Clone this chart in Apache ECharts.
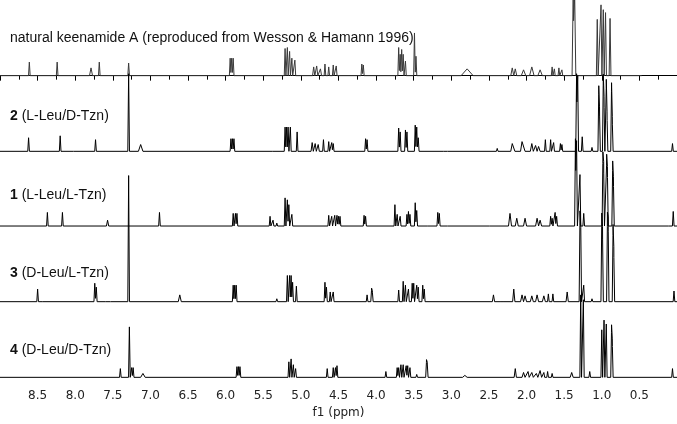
<!DOCTYPE html>
<html>
<head>
<meta charset="utf-8">
<script src="https://cdn.jsdelivr.net/npm/echarts@6/dist/echarts.min.js"></script>
<style>
  html, body { margin: 0; padding: 0; background: #fff; }
  #main { width: 677px; height: 424px; }
</style>
</head>
<body>
<div id="main"></div>
<script>
// peak lists: [ppm, intensity, half-width in ppm (optional)]
var natural = [
  [8.61, 14], [8.24, 14], [7.79, 8, 0.02], [7.68, 14], [7.29, 13],
  [5.94, 18], [5.92, 18], [5.90, 18],
  [5.21, 28], [5.18, 29], [5.15, 25], [5.12, 18], [5.08, 16],
  [4.83, 9, 0.015], [4.79, 10, 0.015], [4.74, 7, 0.015], [4.68, 12], [4.63, 9], [4.57, 11], [4.53, 10],
  [4.19, 12], [4.17, 11],
  [3.70, 29], [3.68, 22], [3.66, 27], [3.64, 22], [3.61, 15],
  [3.49, 44], [3.47, 20],
  [2.79, 7, 0.08],
  [2.19, 8, 0.02], [2.15, 7, 0.02], [2.04, 6, 0.03], [1.93, 9, 0.03], [1.82, 6, 0.03],
  [1.66, 9], [1.63, 7], [1.57, 8], [1.53, 6],
  [1.38, 85, 0.015], [1.36, 82, 0.015],
  [1.06, 58, 0.012], [1.01, 73, 0.012], [0.98, 68, 0.012], [0.95, 65, 0.012], [0.89, 59, 0.012]
];
var cmpd2 = [
  [8.62, 14], [8.20, 16], [8.01, 2], [7.73, 12], [7.29, 80], [7.13, 7, 0.03],
  [5.93, 13], [5.91, 13], [5.89, 13], [5.37, 2],
  [5.21, 25], [5.19, 25], [5.17, 25], [5.14, 25], [5.05, 20],
  [4.85, 9, 0.015], [4.81, 8, 0.015], [4.77, 7, 0.015], [4.70, 12], [4.63, 10], [4.59, 9], [4.57, 8],
  [4.14, 13], [4.12, 12],
  [3.70, 24], [3.68, 20], [3.61, 22], [3.59, 20], [3.48, 27], [3.46, 25], [3.44, 14],
  [3.09, 1], [3.04, 1], [2.39, 3],
  [2.19, 8, 0.02], [2.17, 10, 0.015], [2.06, 10, 0.02], [2.04, 8, 0.02], [1.93, 8, 0.02],
  [1.88, 6, 0.02], [1.84, 5, 0.02], [1.75, 12], [1.68, 12], [1.64, 9], [1.55, 8], [1.53, 7],
  [1.335, 80], [1.32, 78], [1.26, 15], [1.13, 4],
  [1.04, 64], [1.03, 40], [0.98, 75], [0.97, 50], [0.94, 71], [0.93, 35], [0.87, 68], [0.86, 30],
  [0.06, 8]
];
var cmpd1 = [
  [8.37, 14], [8.17, 14], [7.57, 6, 0.015], [6.88, 14],
  [5.90, 13], [5.87, 13], [5.85, 13], [5.41, 10], [5.37, 6], [5.32, 3],
  [5.21, 29], [5.18, 27], [5.16, 22], [5.12, 12],
  [4.63, 11], [4.59, 10], [4.55, 11], [4.52, 11], [4.50, 10], [4.48, 10],
  [4.16, 11], [4.14, 10],
  [3.75, 22], [3.72, 12], [3.68, 10], [3.59, 12], [3.57, 15], [3.55, 12], [3.48, 24], [3.46, 16],
  [3.31, 1], [3.18, 14], [3.16, 13], [3.04, 2], [2.48, 1],
  [2.22, 13, 0.02], [2.13, 8, 0.02], [2.02, 8, 0.02], [1.86, 8, 0.02], [1.82, 6, 0.02],
  [1.68, 10], [1.66, 8], [1.62, 14], [1.60, 10],
  [1.35, 90], [1.335, 88], [1.29, 53], [1.24, 13],
  [0.985, 71], [0.975, 60], [0.935, 69], [0.925, 55], [0.855, 63], [0.845, 45],
  [0.10, 2], [0.05, 15]
];
var cmpd3 = [
  [8.50, 13], [8.42, 1], [7.74, 19], [7.72, 15], [7.59, 1], [7.52, 1], [7.29, 130], [6.61, 7, 0.02],
  [5.90, 17], [5.88, 17], [5.86, 17], [5.32, 3],
  [5.18, 27], [5.15, 27], [5.13, 27], [5.11, 20], [5.06, 16],
  [4.68, 20], [4.66, 15], [4.61, 10], [4.57, 10],
  [4.12, 7], [4.06, 13], [4.05, 10],
  [3.70, 12], [3.64, 21], [3.61, 17], [3.57, 13], [3.52, 19], [3.50, 19], [3.46, 17], [3.44, 15],
  [3.38, 17], [3.36, 13],
  [2.44, 7, 0.015], [2.32, 2, 0.02],
  [2.17, 13, 0.015], [2.06, 7, 0.02], [2.02, 6, 0.02], [1.93, 6, 0.02], [1.86, 7, 0.02],
  [1.77, 6, 0.02], [1.71, 8], [1.65, 8], [1.46, 10, 0.015],
  [1.29, 86], [1.28, 84], [1.24, 17], [1.13, 3],
  [1.00, 85], [0.99, 70], [0.925, 85], [0.915, 80], [0.85, 75], [0.84, 50],
  [0.04, 11]
];
var cmpd4 = [
  [7.40, 9], [7.28, 52], [7.25, 10], [7.23, 10], [7.10, 4, 0.03],
  [5.85, 11], [5.83, 11], [5.81, 11],
  [5.16, 16], [5.13, 19], [5.10, 13], [5.07, 9],
  [4.65, 9], [4.57, 10], [4.54, 10], [4.52, 12],
  [3.87, 6], [3.72, 10], [3.70, 10], [3.67, 13], [3.64, 13], [3.60, 12], [3.58, 12], [3.55, 10],
  [3.46, 3], [3.33, 17], [3.32, 14],
  [2.82, 2, 0.03],
  [2.15, 9, 0.015], [2.04, 5, 0.02], [1.98, 6, 0.015], [1.93, 5, 0.02], [1.87, 4, 0.02],
  [1.82, 7, 0.02], [1.77, 5], [1.72, 6], [1.66, 4], [1.40, 5, 0.02],
  [1.28, 85], [1.245, 80], [1.16, 6],
  [1.00, 49], [0.97, 59], [0.94, 55], [0.87, 51], [0.86, 35],
  [0.06, 9]
];

var spectra = [natural, cmpd2, cmpd1, cmpd3, cmpd4];
var spectrumEnds = [0.47, 0, 0, 0, 0];
var names = [
  'natural keenamide A (reproduced from Wesson & Hamann 1996)',
  '{b|2} (L-Leu/D-Tzn)',
  '{b|1} (L-Leu/L-Tzn)',
  '{b|3} (D-Leu/L-Tzn)',
  '{b|4} (D-Leu/D-Tzn)'
];
var ppmMin = 0, ppmMax = 9, tickStep = 0.5;

// layout
var axisY = 397;
var baselines = [78, 156, 233, 311, 389];
var labelY = [38, 116, 195, 273, 350];
var colors = ['#3a3a3a', '#000', '#000', '#000', '#000'];
var defaultHalfWidth = 0.011;

function trace(peaks, from, to) {
  var xs = [from, to];
  peaks.forEach(function (p) {
    var w = p[2] || defaultHalfWidth;
    xs.push(p[0] - w, p[0], p[0] + w);
  });
  xs = xs.filter(function (x) { return x <= from && x >= to; });
  xs.sort(function (a, b) { return b - a; });
  var out = [];
  xs.forEach(function (x) {
    var y = 0;
    peaks.forEach(function (p) {
      var w = p[2] || defaultHalfWidth;
      var d = Math.abs(x - p[0]);
      if (d < w) y += p[1] * (1 - d / w);
    });
    out.push([x, y]);
  });
  return out;
}

var chart = echarts.init(document.getElementById('main'));

var yAxes = baselines.map(function (b) {
  return { type: 'value', show: false, min: -(axisY - b), max: b };
});

var series = spectra.map(function (peaks, i) {
  return {
    type: 'line',
    yAxisIndex: i,
    data: trace(peaks, ppmMax, spectrumEnds[i]),
    showSymbol: false,
    symbol: 'none',
    lineStyle: { color: colors[i], width: 1 },
    z: 2
  };
});

var graphics = names.map(function (t, i) {
  return {
    type: 'text',
    x: 10,
    y: labelY[i],
    style: {
      text: t,
      fill: '#111',
      font: '14px "Liberation Sans", Arial, sans-serif',
      verticalAlign: 'middle',
      rich: { b: { fontWeight: 'bold', fontSize: 14, fontFamily: '"Liberation Sans", Arial, sans-serif' } }
    }
  };
});

chart.setOption({
  animation: false,
  backgroundColor: '#fff',
  grid: { left: 0, right: 0, top: 0, bottom: 424 - axisY },
  xAxis: {
    type: 'value',
    inverse: true,
    min: ppmMin,
    max: ppmMax,
    interval: tickStep,
    name: 'f1 (ppm)',
    nameLocation: 'middle',
    nameGap: 20,
    nameTextStyle: { fontFamily: 'DejaVu Sans', fontSize: 12, color: '#222' },
    axisLine: { lineStyle: { color: '#000', width: 1 } },
    axisTick: { length: 5, inside: false, lineStyle: { color: '#000' } },
    minorTick: { show: true, splitNumber: 2, length: 4, lineStyle: { color: '#000' } },
    splitLine: { show: false },
    axisLabel: {
      showMinLabel: false,
      showMaxLabel: false,
      margin: 5,
      fontFamily: 'DejaVu Sans',
      fontSize: 12,
      color: '#222',
      formatter: function (v) { return v.toFixed(1); }
    }
  },
  yAxis: yAxes,
  series: series,
  graphic: graphics
});
</script>
</body>
</html>
